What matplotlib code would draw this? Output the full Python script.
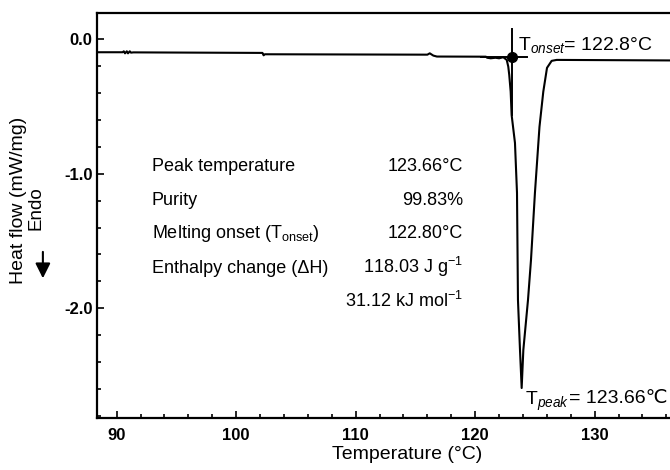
import numpy as np
import matplotlib
matplotlib.use('Agg')
import matplotlib.pyplot as plt
from matplotlib.ticker import MultipleLocator, FormatStrFormatter

plt.rcParams['font.family'] = ['Liberation Sans', 'DejaVu Sans']
plt.rcParams['mathtext.fontset'] = 'custom'
plt.rcParams['mathtext.rm'] = 'Liberation Sans'
plt.rcParams['mathtext.it'] = 'Liberation Sans:italic'
plt.rcParams['axes.unicode_minus'] = False

# ── DSC trace ────────────────────────────────────────────────────────────────
temp = [88.33, 90.5, 90.6, 90.7, 90.85, 90.95, 91.1, 91.2, 91.4,
        102.2, 102.3, 102.4, 116.0, 116.2, 116.5, 116.8,
        120.9, 121.0, 121.3, 121.7, 122.0, 122.35, 122.64, 122.77, 122.85,
        122.97, 123.05, 123.33, 123.50, 123.58, 123.75, 123.89,
        124.03, 124.42, 124.67, 125.00, 125.38, 125.70, 126.01, 126.40,
        126.82, 136.6]
heat_flow = [-0.097, -0.097, -0.090, -0.105, -0.090, -0.105, -0.090, -0.100, -0.098,
             -0.102, -0.120, -0.112, -0.115, -0.105, -0.122, -0.129,
             -0.130, -0.138, -0.142, -0.138, -0.142, -0.134, -0.154, -0.204, -0.265,
             -0.390, -0.563, -0.771, -1.143, -1.938, -2.310, -2.593,
             -2.310, -1.938, -1.641, -1.143, -0.652, -0.390, -0.213, -0.161,
             -0.154, -0.158]

onset_t, onset_hf = 123.10, -0.134

table_labels = ['Peak temperature', 'Purity', r'Melting onset (T$_{\mathrm{onset}}$)',
                'Enthalpy change (ΔH)', '']
table_values = ['123.66°C', '99.83%', '122.80°C',
                r'118.03 J g$^{\mathrm{-1}}$', r'31.12 kJ mol$^{\mathrm{-1}}$']

fig = plt.figure(figsize=(6.7, 4.7), dpi=100)
ax = fig.add_axes([0.1443, 0.1106, 0.8587, 0.8624])

ax.plot(temp, heat_flow, color='black', lw=1.5)

# onset construction: tangent, marker line and point
ax.plot([120.5, 124.35], [onset_hf, onset_hf], color='black', lw=1.4)
ax.plot([onset_t, onset_t], [0.077, -0.56], color='black', lw=1.4)
ax.plot(onset_t, onset_hf, 'o', color='black', markersize=7)

ax.text(0.7323, 0.908, r'T$_{\mathit{onset}}$= 122.8°C', transform=ax.transAxes,
        fontsize=14, va='baseline', ha='left')
tp = ax.text(0.7445, 0.032, r'T$_{\mathit{peak}}$', transform=ax.transAxes,
             fontsize=14, va='baseline', ha='left')
ax.annotate('= 123.66℃', xy=(1, 1), xycoords=tp, fontsize=14,
            va='top', ha='left')

# results table
rows_y = [0.6094, 0.5255, 0.4441, 0.3578, 0.2739]
for y, lab, val in zip(rows_y, table_labels, table_values):
    ax.text(0.0961, y, lab, transform=ax.transAxes, fontsize=13, va='baseline')
    ax.text(0.6367, y, val, transform=ax.transAxes, fontsize=13, va='baseline',
            ha='right')

ax.set_xlim(88.33, 136.47)
ax.set_ylim(-2.816, 0.197)
ax.xaxis.set_major_locator(MultipleLocator(10))
ax.xaxis.set_minor_locator(MultipleLocator(2))
ax.yaxis.set_major_locator(MultipleLocator(1))
ax.yaxis.set_minor_locator(MultipleLocator(0.2))
ax.yaxis.set_major_formatter(FormatStrFormatter('%.1f'))
ax.tick_params(which='both', direction='in', top=False, right=False, width=1.2)
ax.tick_params(which='major', length=5, labelsize=12)
ax.tick_params(which='minor', length=3)
ax.tick_params(axis='x', pad=7)
ax.tick_params(axis='y', pad=3)
for lbl in ax.get_xticklabels() + ax.get_yticklabels():
    lbl.set_fontweight('bold')
for s in ax.spines.values():
    s.set_linewidth(1.6)
ax.spines['right'].set_visible(False)

fig.text(0.608, 0.032, 'Temperature (°C)', fontsize=14, ha='center', va='center')
fig.text(0.027, 0.574, 'Heat flow (mW/mg)', fontsize=14, rotation=90,
         ha='center', va='center')
fig.text(0.054, 0.557, 'Endo', fontsize=13.5, rotation=90, ha='center', va='center')
fig.add_artist(matplotlib.patches.FancyArrowPatch(
    (0.064, 0.470), (0.064, 0.402), transform=fig.transFigure,
    arrowstyle='-|>,head_length=6,head_width=3', color='black', lw=1.5,
    mutation_scale=1.5))

fig.savefig('out.png', dpi=100)
